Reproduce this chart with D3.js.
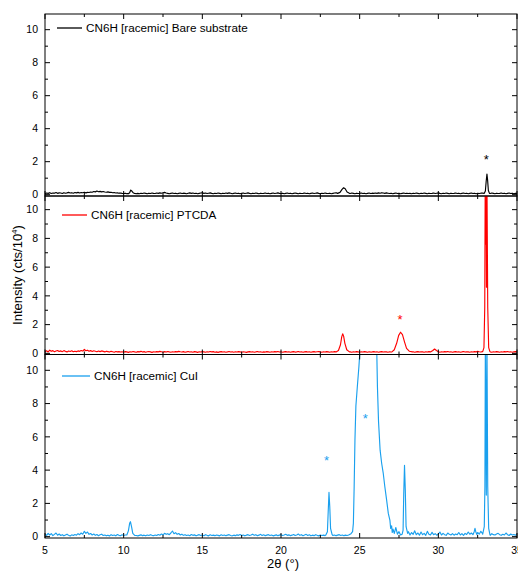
<!DOCTYPE html>
<html>
<head>
<meta charset="utf-8">
<script src="https://cdn.jsdelivr.net/npm/d3@7"></script>
<style>
  body { margin: 0; background: #fff; }
  svg { display: block; font-family: "Liberation Sans", Arial, sans-serif; }
</style>
</head>
<body>
<svg id="chart" width="518" height="579"></svg>
<script>
// ---- data ----------------------------------------------------------------
// Scan grid for the background arrays: 5.0° .. 35.0° in 0.1° steps (301 values)
const xStart = 5, xStep = 0.1;
const xTicks = [5, 10, 15, 20, 25, 30, 35];
const xMinorTicks = [7.5, 12.5, 17.5, 22.5, 27.5, 32.5];
const yTicks = [0, 2, 4, 6, 8, 10];
const yMinorTicks = [1, 3, 5, 7, 9];
const seriesNames = ["CN6H [racemic] Bare substrate", "CN6H [racemic] PTCDA", "CN6H [racemic] CuI"];
const seriesColors = ["#000000", "#ff0000", "#1aa0ee"];

// Bare substrate background (cts/10^4)
const bareBase = [
  0.06,0.1,0.08,0.12,0.07,0.1,0.09,0.13,0.08,0.11,
  0.1,0.07,0.12,0.09,0.11,0.14,0.1,0.12,0.09,0.13,
  0.11,0.14,0.1,0.13,0.12,0.15,0.11,0.14,0.13,0.16,
  0.15,0.19,0.17,0.22,0.18,0.2,0.17,0.19,0.16,0.15,
  0.17,0.14,0.15,0.12,0.13,0.1,0.11,0.09,0.1,0.08,
  0.07,0.09,0.06,0.08,0.1,0.12,0.09,0.07,0.06,0.08,
  0.06,0.09,0.07,0.1,0.08,0.06,0.09,0.07,0.1,0.08,
  0.07,0.1,0.08,0.11,0.09,0.12,0.14,0.1,0.08,0.06,
  0.08,0.1,0.07,0.09,0.06,0.08,0.1,0.07,0.09,0.08,
  0.06,0.09,0.11,0.08,0.1,0.07,0.09,0.06,0.08,0.1,
  0.12,0.08,0.1,0.07,0.09,0.11,0.08,0.06,0.09,0.07,
  0.1,0.08,0.06,0.09,0.07,0.1,0.08,0.11,0.09,0.06,
  0.08,0.1,0.07,0.09,0.06,0.08,0.1,0.07,0.09,0.11,
  0.08,0.06,0.09,0.07,0.1,0.08,0.06,0.09,0.07,0.08,
  0.1,0.07,0.09,0.06,0.08,0.1,0.07,0.09,0.11,0.08,
  0.07,0.09,0.06,0.08,0.1,0.07,0.09,0.06,0.08,0.1,
  0.08,0.06,0.09,0.07,0.08,0.1,0.07,0.09,0.06,0.08,
  0.1,0.07,0.09,0.11,0.08,0.06,0.09,0.07,0.1,0.08,
  0.07,0.09,0.06,0.08,0.1,0.12,0.09,0.07,0.08,0.1,
  0.1,0.08,0.06,0.09,0.07,0.1,0.08,0.06,0.09,0.07,
  0.08,0.1,0.07,0.09,0.06,0.08,0.1,0.07,0.09,0.08,
  0.1,0.08,0.11,0.09,0.12,0.1,0.08,0.11,0.09,0.07,
  0.09,0.06,0.08,0.1,0.07,0.09,0.06,0.08,0.1,0.07,
  0.09,0.07,0.08,0.06,0.09,0.07,0.1,0.08,0.06,0.09,
  0.07,0.1,0.08,0.06,0.09,0.07,0.08,0.1,0.07,0.09,
  0.11,0.08,0.06,0.09,0.07,0.1,0.08,0.06,0.09,0.07,
  0.08,0.1,0.07,0.09,0.06,0.08,0.1,0.07,0.09,0.06,
  0.08,0.1,0.07,0.09,0.06,0.08,0.07,0.09,0.1,0.08,
  0.08,0.06,0.09,0.07,0.1,0.08,0.06,0.09,0.07,0.08,
  0.1,0.07,0.09,0.06,0.08,0.1,0.07,0.09,0.06,0.08,
  0.08
];
const barePeaks = [
  [[10.3,0.06],[10.38,0.12],[10.45,0.28],[10.52,0.22],[10.6,0.12],[10.7,0.07]],
  [[23.6,0.08],[23.75,0.14],[23.88,0.32],[23.98,0.42],[24.08,0.36],[24.2,0.16],[24.35,0.08]],
  [[32.92,0.08],[32.99,0.22],[33.04,0.8],[33.09,1.25],[33.13,0.9],[33.18,0.25],[33.25,0.08]]
];

// PTCDA background
const ptcdaBase = [
  0.12,0.18,0.1,0.22,0.14,0.19,0.11,0.16,0.2,0.13,
  0.17,0.12,0.19,0.14,0.1,0.16,0.13,0.18,0.11,0.15,
  0.12,0.17,0.14,0.2,0.16,0.27,0.18,0.22,0.15,0.19,
  0.13,0.18,0.15,0.11,0.16,0.12,0.17,0.14,0.1,0.15,
  0.12,0.09,0.14,0.11,0.08,0.13,0.1,0.12,0.09,0.11,
  0.08,0.12,0.1,0.07,0.11,0.09,0.13,0.1,0.08,0.12,
  0.1,0.14,0.09,0.12,0.08,0.11,0.13,0.1,0.07,0.11,
  0.09,0.12,0.1,0.14,0.11,0.08,0.12,0.09,0.13,0.1,
  0.08,0.11,0.09,0.12,0.1,0.14,0.11,0.09,0.12,0.08,
  0.1,0.13,0.09,0.11,0.08,0.12,0.1,0.07,0.11,0.09,
  0.12,0.1,0.08,0.11,0.09,0.13,0.1,0.12,0.08,0.1,
  0.07,0.1,0.12,0.09,0.11,0.08,0.1,0.13,0.09,0.11,
  0.08,0.11,0.09,0.12,0.1,0.08,0.11,0.09,0.07,0.1,
  0.12,0.09,0.11,0.08,0.1,0.13,0.09,0.11,0.08,0.1,
  0.09,0.12,0.1,0.08,0.11,0.09,0.12,0.1,0.13,0.09,
  0.11,0.08,0.1,0.12,0.09,0.11,0.08,0.1,0.12,0.09,
  0.1,0.13,0.09,0.11,0.08,0.1,0.12,0.09,0.11,0.08,
  0.1,0.12,0.09,0.11,0.13,0.1,0.08,0.11,0.09,0.12,
  0.1,0.08,0.11,0.09,0.12,0.1,0.13,0.11,0.09,0.12,
  0.1,0.12,0.09,0.11,0.1,0.08,0.11,0.09,0.12,0.1,
  0.08,0.11,0.09,0.12,0.1,0.08,0.11,0.09,0.1,0.12,
  0.09,0.11,0.08,0.1,0.12,0.09,0.11,0.1,0.08,0.11,
  0.09,0.12,0.1,0.08,0.11,0.09,0.12,0.1,0.09,0.11,
  0.13,0.1,0.12,0.09,0.11,0.08,0.1,0.12,0.09,0.11,
  0.1,0.08,0.11,0.09,0.12,0.1,0.08,0.11,0.09,0.12,
  0.1,0.08,0.11,0.09,0.12,0.1,0.13,0.09,0.11,0.08,
  0.1,0.12,0.09,0.11,0.08,0.1,0.13,0.09,0.11,0.1,
  0.08,0.11,0.09,0.12,0.1,0.14,0.11,0.09,0.12,0.1,
  0.11,0.09,0.12,0.1,0.08,0.11,0.09,0.12,0.1,0.08,
  0.11,0.09,0.12,0.1,0.13,0.09,0.11,0.08,0.1,0.12,
  0.1
];
const ptcdaPeaks = [
  [[23.5,0.1],[23.65,0.2],[23.78,0.6],[23.86,1.15],[23.92,1.36],[23.98,1.2],[24.06,0.7],[24.18,0.25],[24.35,0.1]],
  [[27.05,0.1],[27.2,0.25],[27.35,0.7],[27.48,1.25],[27.6,1.47],[27.72,1.3],[27.85,0.8],[27.98,0.35],[28.15,0.15],[28.35,0.1]],
  [[29.5,0.1],[29.65,0.2],[29.76,0.3],[29.88,0.2],[30.02,0.1]],
  [[32.82,0.12],[32.9,0.4],[32.95,3.2],[32.98,12],[33.01,7.6],[33.03,12],[33.06,4.6],[33.09,12],[33.14,3.2],[33.2,0.4],[33.28,0.12]]
];

// CuI background
const cuiBase = [
  0.15,0.08,0.2,0.1,0.18,0.06,0.14,0.22,0.09,0.16,
  0.07,0.12,0.05,0.1,0.15,0.08,0.04,0.11,0.07,0.13,
  0.09,0.18,0.12,0.22,0.15,0.32,0.2,0.28,0.14,0.19,
  0.1,0.16,0.08,0.13,0.06,0.11,0.15,0.07,0.1,0.05,
  0.09,0.04,0.12,0.07,0.1,0.05,0.13,0.08,0.06,0.11,
  0.07,0.1,0.05,0.09,0.12,0.08,0.06,0.1,0.07,0.05,
  0.08,0.11,0.06,0.09,0.05,0.1,0.07,0.12,0.08,0.06,
  0.1,0.07,0.13,0.09,0.16,0.11,0.2,0.14,0.18,0.12,
  0.22,0.34,0.18,0.24,0.14,0.19,0.1,0.15,0.08,0.12,
  0.07,0.1,0.06,0.13,0.08,0.11,0.05,0.09,0.12,0.07,
  0.1,0.06,0.12,0.08,0.05,0.11,0.07,0.09,0.06,0.1,
  0.08,0.05,0.11,0.07,0.1,0.06,0.09,0.12,0.07,0.05,
  0.09,0.06,0.11,0.08,0.13,0.07,0.1,0.05,0.09,0.12,
  0.07,0.1,0.15,0.08,0.12,0.06,0.09,0.14,0.07,0.11,
  0.06,0.09,0.12,0.07,0.1,0.05,0.08,0.11,0.06,0.09,
  0.12,0.07,0.1,0.14,0.08,0.11,0.06,0.09,0.13,0.07,
  0.1,0.16,0.08,0.12,0.06,0.1,0.14,0.07,0.11,0.05,
  0.09,0.06,0.12,0.08,0.05,0.1,0.07,0.09,0.06,0.1,
  0.1,0.08,0.11,0.07,0.1,0.06,0.09,0.12,0.07,0.1,
  0.06,0.09,0.07,0.1,0.05,0.08,0.11,0.07,0.09,0.12,
  0.1,0.1,0.1,0.1,0.1,0.1,0.1,0.1,0.1,0.1,
  0.1,0.1,0.1,0.1,0.1,0.1,0.1,0.1,0.1,0.1,
  0.1,0.42,0.2,0.55,0.15,0.3,0.1,0.35,0.12,0.2,
  0.18,0.3,0.1,0.25,0.14,0.35,0.12,0.22,0.09,0.28,
  0.12,0.2,0.08,0.32,0.15,0.1,0.26,0.12,0.18,0.09,
  0.15,0.28,0.1,0.2,0.12,0.08,0.22,0.14,0.1,0.18,
  0.09,0.16,0.12,0.25,0.1,0.18,0.08,0.2,0.13,0.28,
  0.15,0.22,0.12,0.3,0.18,0.25,0.15,0.32,0.2,0.14,
  0.15,0.1,0.14,0.08,0.18,0.12,0.1,0.16,0.2,0.12,
  0.08,0.14,0.1,0.22,0.12,0.07,0.16,0.1,0.13,0.09,
  0.15
];
const cuiPeaks = [
  [[10.2,0.1],[10.3,0.35],[10.38,0.8],[10.43,0.9],[10.5,0.6],[10.58,0.2],[10.7,0.08]],
  [[22.85,0.1],[22.95,0.3],[23.0,1.5],[23.05,2.66],[23.1,1.8],[23.15,0.5],[23.25,0.12]],
  [[24.3,0.1],[24.45,0.18],[24.55,0.3],[24.6,0.8],[24.65,3.0],[24.7,5.8],[24.76,7.85],[24.85,9.0],
   [24.95,10.2],[25.02,11.2],[25.1,13.5],[25.4,17],[25.7,18],[25.95,15],[26.08,11.5],[26.13,9.0],
   [26.2,6.9],[26.3,5.2],[26.4,4.4],[26.5,3.8],[26.6,3.0],[26.7,2.3],[26.82,1.4],[26.92,1.0],
   [26.97,0.5],[27.03,0.65],[27.07,0.25],[27.12,0.45]],
  [[27.7,0.15],[27.76,0.4],[27.8,2.5],[27.85,4.29],[27.9,2.8],[27.95,0.6],[28.05,0.2]],
  [[32.2,0.12],[32.28,0.3],[32.33,0.5],[32.38,0.3],[32.45,0.12]],
  [[32.82,0.15],[32.92,0.6],[32.96,3],[32.99,12],[33.02,7],[33.05,2.5],[33.09,12],[33.14,3],[33.2,0.5],[33.28,0.12]]
];

// Asterisk annotations (2θ, intensity)
const starMarks = [
  { series: 0, x: 33.05, y: 2.3 },
  { series: 1, x: 27.56, y: 2.53 },
  { series: 2, x: 22.9, y: 4.73 },
  { series: 2, x: 25.35, y: 7.28 }
];

// ---- layout ----------------------------------------------------------------
const svg = d3.select("#chart");
const plotLeft = 45, plotRight = 517;
const panelEdges = [14, 196, 354.5, 538];
const legendPos = [
  { x1: 57, x2: 82, y: 28, tx: 86 },
  { x1: 62, x2: 87, y: 215, tx: 91 },
  { x1: 62, x2: 90, y: 376, tx: 94 }
];
const yDomain = [-0.08, 10.95];

const x = d3.scaleLinear().domain([5, 35]).range([plotLeft, plotRight]);

function buildTrace(base, peaks) {
  const ranges = peaks.map(p => [p[0][0], p[p.length - 1][0]]);
  const pts = base
    .map((v, i) => [+(xStart + i * xStep).toFixed(2), v])
    .filter(([xx]) => !ranges.some(([a, b]) => xx >= a && xx <= b));
  peaks.forEach(p => p.forEach(d => pts.push(d)));
  return pts.sort((a, b) => a[0] - b[0]);
}

const traces = [
  buildTrace(bareBase, barePeaks),
  buildTrace(ptcdaBase, ptcdaPeaks),
  buildTrace(cuiBase, cuiPeaks)
];

const yScales = [0, 1, 2].map(i =>
  d3.scaleLinear().domain(yDomain).range([panelEdges[i + 1], panelEdges[i]])
);

const defs = svg.append("defs");

[0, 1, 2].forEach(i => {
  const y = yScales[i];
  const top = panelEdges[i], bottom = panelEdges[i + 1];
  const g = svg.append("g");

  defs.append("clipPath").attr("id", "clip" + i)
    .append("rect")
    .attr("x", plotLeft).attr("y", top)
    .attr("width", plotRight - plotLeft).attr("height", bottom - top);

  // trace
  const line = d3.line().x(d => x(d[0])).y(d => y(d[1]));
  g.append("path")
    .datum(traces[i])
    .attr("clip-path", `url(#clip${i})`)
    .attr("fill", "none")
    .attr("stroke", seriesColors[i])
    .attr("stroke-width", 1.15)
    .attr("stroke-linejoin", "round")
    .attr("d", line);

  // frame
  g.append("rect")
    .attr("x", plotLeft).attr("y", top)
    .attr("width", plotRight - plotLeft).attr("height", bottom - top)
    .attr("fill", "none").attr("stroke", "#000").attr("stroke-width", 1);

  // inward ticks on all four sides
  const tk = g.append("g").attr("stroke", "#000").attr("stroke-width", 1);
  yTicks.forEach(v => {
    tk.append("line").attr("x1", plotLeft).attr("x2", plotLeft + 5).attr("y1", y(v)).attr("y2", y(v));
    tk.append("line").attr("x1", plotRight).attr("x2", plotRight - 5).attr("y1", y(v)).attr("y2", y(v));
  });
  yMinorTicks.forEach(v => {
    tk.append("line").attr("x1", plotLeft).attr("x2", plotLeft + 3).attr("y1", y(v)).attr("y2", y(v));
    tk.append("line").attr("x1", plotRight).attr("x2", plotRight - 3).attr("y1", y(v)).attr("y2", y(v));
  });
  xTicks.forEach(v => {
    tk.append("line").attr("x1", x(v)).attr("x2", x(v)).attr("y1", bottom).attr("y2", bottom - 5);
    tk.append("line").attr("x1", x(v)).attr("x2", x(v)).attr("y1", top).attr("y2", top + 5);
  });
  xMinorTicks.forEach(v => {
    tk.append("line").attr("x1", x(v)).attr("x2", x(v)).attr("y1", bottom).attr("y2", bottom - 3);
    tk.append("line").attr("x1", x(v)).attr("x2", x(v)).attr("y1", top).attr("y2", top + 3);
  });

  // y tick labels
  g.selectAll("text.ytl").data(yTicks).join("text")
    .attr("class", "ytl")
    .attr("x", plotLeft - 7)
    .attr("y", d => y(d) + 3.8)
    .attr("text-anchor", "end")
    .attr("font-size", 10.5)
    .text(d => d);

  // legend
  const lp = legendPos[i];
  g.append("line")
    .attr("x1", lp.x1).attr("x2", lp.x2).attr("y1", lp.y).attr("y2", lp.y)
    .attr("stroke", seriesColors[i]).attr("stroke-width", 1.3);
  g.append("text")
    .attr("x", lp.tx).attr("y", lp.y + 4.2)
    .attr("font-size", 11.7)
    .text(seriesNames[i]);
});

// asterisks
starMarks.forEach(s => {
  svg.append("text")
    .attr("x", x(s.x))
    .attr("y", yScales[s.series](s.y) + 7)
    .attr("text-anchor", "middle")
    .attr("font-size", 13)
    .attr("fill", seriesColors[s.series])
    .text("*");
});

// x tick labels (bottom panel)
svg.selectAll("text.xtl").data(xTicks).join("text")
  .attr("class", "xtl")
  .attr("x", d => x(d))
  .attr("y", panelEdges[3] + 15.5)
  .attr("text-anchor", "middle")
  .attr("font-size", 10.5)
  .text(d => d);

// axis titles
svg.append("text")
  .attr("x", 283).attr("y", 568)
  .attr("text-anchor", "middle")
  .attr("font-size", 13)
  .text("2θ (°)");

const yt = svg.append("text")
  .attr("transform", "translate(22,275) rotate(-90)")
  .attr("text-anchor", "middle")
  .attr("font-size", 13);
yt.append("tspan").text("Intensity (cts/10");
yt.append("tspan").attr("font-size", 8).attr("dy", -5).text("4");
yt.append("tspan").attr("dy", 5).text(")");
</script>
</body>
</html>
